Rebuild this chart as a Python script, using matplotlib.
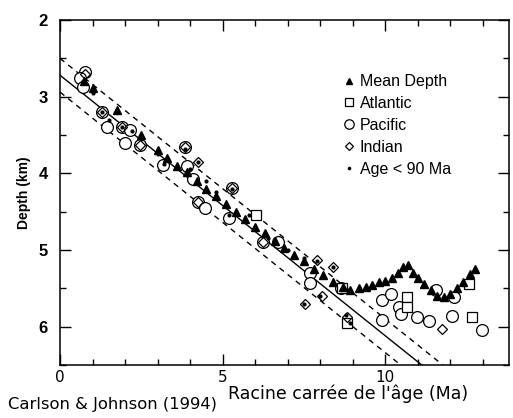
import numpy as np
import matplotlib
matplotlib.use('Agg')
import matplotlib.pyplot as plt
import matplotlib.ticker as mticker

# fit lines: depth = intercept + slope * sqrt(age)
fit_slope = 0.34
fit_intercepts = [2.50, 2.72, 2.94]
fit_styles = ['--', '-', '--']

# mean depth (filled triangles)
mean_x = [0.75, 1.0, 1.75, 2.5, 3.0, 3.3, 3.6, 3.9, 4.2, 4.5, 4.8, 5.1, 5.4, 5.7,
          6.0, 6.3, 6.6, 6.9, 7.2, 7.5, 7.8, 8.1, 8.4, 8.7, 8.9, 9.2, 9.42, 9.6,
          9.8, 10.0, 10.2, 10.4, 10.55, 10.7, 10.85, 11.0, 11.2, 11.4, 11.6,
          11.8, 12.0, 12.2, 12.4, 12.6, 12.75]
mean_y = [2.80, 2.88, 3.17, 3.50, 3.70, 3.80, 3.90, 3.98, 4.10, 4.20, 4.30, 4.40,
          4.50, 4.60, 4.70, 4.78, 4.88, 4.98, 5.06, 5.15, 5.25, 5.33, 5.42, 5.48,
          5.52, 5.50, 5.48, 5.46, 5.42, 5.40, 5.36, 5.30, 5.22, 5.20, 5.30, 5.36,
          5.45, 5.52, 5.60, 5.62, 5.58, 5.50, 5.42, 5.32, 5.25]

# Atlantic (open squares)
atl_x = [6.04, 8.68, 8.83, 10.67, 10.67, 12.58, 12.67]
atl_y = [4.54, 5.49, 5.95, 5.62, 5.74, 5.45, 5.88]

# Pacific (open circles)
pac_x = [0.77, 0.61, 0.71, 1.29, 1.44, 1.90, 2.15, 2.00, 2.45, 3.83, 3.16, 3.90,
         4.08, 5.28, 4.23, 4.45, 5.21, 6.23, 6.69, 7.67, 7.67, 8.65, 9.90, 10.18,
         10.43, 10.49, 10.98, 11.35, 9.90, 11.56, 12.06, 12.12, 12.98]
pac_y = [2.68, 2.76, 2.87, 3.20, 3.39, 3.39, 3.43, 3.60, 3.63, 3.65, 3.89, 3.91,
         4.08, 4.19, 4.37, 4.45, 4.58, 4.90, 4.89, 5.30, 5.43, 5.49, 5.65, 5.58,
         5.74, 5.84, 5.88, 5.93, 5.92, 5.52, 5.86, 5.62, 6.04]

# Indian (open diamonds)
ind_x = [7.90, 8.38, 7.52, 8.04, 11.75, 4.23, 3.83, 0.77, 1.29, 1.90, 2.45,
         5.28, 4.23, 6.23, 8.83]
ind_y = [5.13, 5.22, 5.71, 5.60, 6.03, 3.85, 3.65, 2.70, 3.20, 3.39, 3.63,
         4.19, 4.37, 4.90, 5.88]

# Age < 90 Ma (small dots)
young_x = [0.7, 1.0, 1.3, 1.5, 1.9, 2.2, 2.5, 3.0, 3.2, 3.85, 4.0, 4.25, 4.5,
           4.8, 5.3, 5.2, 5.8, 6.0, 6.4, 7.0, 7.5, 7.9, 8.4, 7.5, 8.0, 8.8, 8.9]
young_y = [2.80, 2.95, 3.20, 3.30, 3.40, 3.45, 3.55, 3.75, 3.88, 3.68, 3.95,
           3.85, 4.10, 4.25, 4.20, 4.55, 4.55, 4.70, 4.85, 5.00, 5.10, 5.15,
           5.22, 5.70, 5.60, 5.85, 5.95]

fig = plt.figure(figsize=(5.13, 4.18), dpi=100)
ax = fig.add_axes([0.117, 0.127, 0.875, 0.825])

xx = np.array([0, 14])
for b, ls in zip(fit_intercepts, fit_styles):
    ax.plot(xx, b + fit_slope * xx, color='black', lw=1.0, ls=ls,
            dashes=(4, 3.5) if ls == '--' else (None, None))

ax.plot(pac_x, pac_y, 'o', mfc='white', mec='black', ms=8.5, mew=0.9,
        ls='none', label='Pacific', zorder=3)
ax.plot(atl_x, atl_y, 's', mfc='white', mec='black', ms=7.5, mew=0.9,
        ls='none', label='Atlantic', zorder=3)
ax.plot(ind_x, ind_y, 'D', mfc='none', mec='black', ms=5.5, mew=0.9,
        ls='none', label='Indian', zorder=4)
ax.plot(young_x, young_y, '.', color='black', ms=4, ls='none',
        label='Age < 90 Ma', zorder=5)
ax.plot(mean_x, mean_y, '^', color='black', ms=6, ls='none',
        label='Mean Depth', zorder=6)

ax.set_xlim(0, 13.8)
ax.set_ylim(6.5, 2)

ax.xaxis.set_major_locator(mticker.MultipleLocator(5))
ax.xaxis.set_minor_locator(mticker.MultipleLocator(1))
ax.yaxis.set_major_locator(mticker.MultipleLocator(1))
ax.yaxis.set_minor_locator(mticker.MultipleLocator(0.5))
ax.tick_params(which='both', direction='in', top=True, right=True, width=1)
ax.tick_params(which='major', length=8)
ax.tick_params(which='minor', length=4)
ax.tick_params(axis='x', pad=4, labelsize=11)
ax.tick_params(axis='y', pad=9, labelsize=12)
for lab in ax.get_yticklabels():
    lab.set_family('Liberation Sans')
    lab.set_fontweight('bold')
for sp in ax.spines.values():
    sp.set_linewidth(1.1)

ax.set_ylabel('Depth (km)', family='Liberation Sans', fontweight='bold',
              fontsize=10, labelpad=5)
fig.text(0.678, 1 - 394 / 418, "Racine carrée de l'âge (Ma)", ha='center',
         va='center', fontsize=12.5)
fig.text(8 / 513, 1 - 404 / 418, 'Carlson & Johnson (1994)', ha='left',
         va='center', fontsize=11.8)

h, l = ax.get_legend_handles_labels()
order = [4, 1, 0, 2, 3]
leg = ax.legend([h[i] for i in order], [l[i] for i in order], loc='upper left',
                bbox_to_anchor=(0.6, 0.885), frameon=False, handlelength=0.7,
                handletextpad=0.3, labelspacing=0.43, markerscale=0.8,
                prop={'family': 'Liberation Sans', 'size': 11.5})

fig.savefig('out.png', dpi=100)
